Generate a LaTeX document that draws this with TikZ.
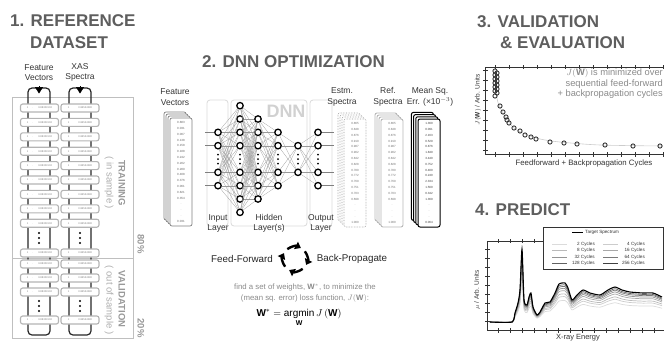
\documentclass[tikz,border=0pt]{standalone}
\usepackage{fontspec}
\usepackage{amsmath}
\setmainfont{Liberation Sans}
\usetikzlibrary{arrows.meta}
\definecolor{ttl}{HTML}{5E5E5E}
\definecolor{boxg}{HTML}{B4B4B4}
\definecolor{txtg}{HTML}{8A8A8A}
\begin{document}
\begin{tikzpicture}[x=1pt,y=-1pt,
  title/.style={font=\fontsize{17}{19}\selectfont\bfseries,text=ttl,inner sep=0,anchor=base west},
  lbl/.style={font=\fontsize{8.5}{10.5}\selectfont,text=black!80,align=center,inner sep=0},
  rowbox/.style={draw=boxg,line width=1.1,fill=white,rounded corners=2.2,minimum width=38,minimum height=8,inner sep=0,font=\fontsize{2.6}{3}\selectfont,text=black!50},
  legbox/.style={draw=black!85,line width=1.2,rounded corners=4},
  sidebold/.style={font=\fontsize{9.5}{10}\selectfont\bfseries,text=black!40,rotate=-90,inner sep=0},
  sidelight/.style={font=\fontsize{9.5}{10}\selectfont,text=black!32,rotate=-90,inner sep=0},
  neuron/.style={circle,draw=black,line width=1.3,fill=white,minimum size=6.4,inner sep=0},
  edge/.style={draw=black!40,line width=0.25},
  layerbox/.style={draw=black!15,line width=0.8,rounded corners=3},
  nums/.style={font=\fontsize{3}{5.8}\selectfont,align=center,inner sep=0},
  bigdot/.style={circle,fill=black,minimum size=2.2,inner sep=0},
  fvsheet/.style={draw=black!50,line width=0.7,fill=white,rounded corners=2},
  estsheet/.style={draw=black!40,densely dotted,line width=0.6,fill=white,rounded corners=2},
  refsheet/.style={draw=black!28,line width=0.9,fill=white,rounded corners=2},
  msesheet/.style={draw=black,line width=1.0,fill=white,rounded corners=2},
  cyc/.style={line width=2.4,-{Triangle[width=8pt,length=5.5pt]}},
  axis/.style={draw=black!80,line width=0.6},
  pt/.style={draw=black!80,line width=0.9},
  leg/.style={font=\fontsize{4.6}{5}\selectfont,inner sep=0,text=black!80},
  spec/.pic={\draw[#1] plot[smooth,tension=0.35] coordinates {(490,322) (512,322) (515,313) (518,303) (520,290) (522,249) (524,300) (527,305) (529,297) (531,293) (533,307) (537,315) (540,312) (545,303) (550,302) (555,293) (559,284) (565,283) (568,288) (572,300) (577,295) (583,290) (590,293) (600,295) (608,290) (615,287) (622,290) (630,292) (643,293) (653,293) (662,297)};}
]
\useasboundingbox (0,0) rectangle (664,341);

% ---------- titles ----------
\node[title] (t1) at (10,26) {1. REFERENCE};
\node[title] (t1b) at (30,48) {DATASET};
\node[title] (t2) at (202,67) {2. DNN OPTIMIZATION};
\node[title] (t3) at (477,27) {3. VALIDATION};
\node[title] (t3b) at (500,48) {\& EVALUATION};
\node[title] (t4) at (475,215) {4. PREDICT};

% ---------- panel 1 ----------
\node[lbl] (fvl) at (39,72.5) {Feature\\Vectors};
\node[lbl] (xasl) at (80,72.5) {XAS\\Spectra};
\draw[draw=black!25,line width=0.8] (12,97) rectangle (133,338);
\draw[draw=black!25,line width=0.8] (12,258.5) -- (133,258.5);
\draw[legbox] (28,88) rectangle (50,335);
\draw[legbox] (69,88) rectangle (91,335);
\coordinate (fvA) at (39,86); \coordinate (fvB) at (39,93.5);
\coordinate (xsA) at (80,86); \coordinate (xsB) at (80,93.5);
\draw[-{Triangle[width=8pt,length=6.5pt]},line width=0.5] (fvA) -- (fvB);
\draw[-{Triangle[width=8pt,length=6.5pt]},line width=0.5] (xsA) -- (xsB);
\foreach \y [count=\i] in {108,122.4,136.8,151.2,165.6,180,194.4,208.8,223.2,253,264,278,292,320}{
  \node[rowbox] (rl\i) at (39.5,\y) {1\hspace{4pt}·\hspace{5pt}0.88303102};
  \node[rowbox] (rr\i) at (80,\y) {1\hspace{9pt}0.86534290};
}
\foreach \x in {39,80}{
  \foreach \y in {233,238,243,301,306,311}{
    \node[bigdot] at (\x,\y) {};
  }
}
\node[sidebold] (trn) at (122,183) {TRAINING};
\node[sidelight] (ins) at (109,183) {( in sample )};
\node[sidebold] (val) at (122,299) {VALIDATION};
\node[sidelight] (oos) at (109,300) {( out of sample )};
\node[sidebold] (p80) at (141,244) {80\%};
\node[sidebold] (p20) at (141,328) {20\%};

% ---------- panel 2 ----------
\node[lbl] (fv2) at (175,97) {Feature\\Vectors};
\foreach \i in {3,2,1,0}{\draw[fvsheet] ({170-2*\i},{118-2*\i}) rectangle ++(22,108);}
\node[nums,text=black!60] (fvn) at (181,172) {0.883\\0.031\\0.007\\0.138\\0.158\\0.188\\0.242\\0.202\\0.289\\0.408\\0.376\\0.061\\0.821\\0.354\\·\\·\\·\\0.031};

\draw[layerbox] (207,100) rectangle (228,226);
\draw[layerbox] (231,100) rectangle (307,226);
\draw[layerbox] (310,100) rectangle (332,226);
\node[font=\fontsize{18}{18}\selectfont\bfseries,text=black!18,anchor=base,inner sep=0] (dnn) at (286,117) {DNN};

\foreach \k in {-2,-1,1,2}{\node[neuron] (a\k) at (218,{159+13.33*\k}) {};}
\foreach \k in {-4,-3,-2,-1,1,2,3,4}{\node[neuron] (b\k) at (240,{159+13.33*\k}) {};}
\foreach \k in {-3,-2,-1,1,2,3}{\node[neuron] (c\k) at (258,{159+13.33*\k}) {};}
\foreach \k in {-2,-1,1,2}{\node[neuron] (d\k) at (278,{159+13.33*\k}) {};}
\foreach \k in {-1,1}{\node[neuron] (e\k) at (298,{159+13.33*\k}) {};}
\foreach \k in {-2,-1,1,2}{\node[neuron] (f\k) at (318,{159+13.33*\k}) {};}
\foreach \x in {218,240,258,278,298,318}{
  \foreach \y in {154.5,159,163.5}{\node[bigdot,minimum size=2] at (\x,\y) {};}
}
\foreach \p in {-2,-1,1,2}{\foreach \q in {-4,-3,-2,-1,1,2,3,4}{\draw[edge] (a\p) -- (b\q);}}
\foreach \p in {-4,-3,-2,-1,1,2,3,4}{\foreach \q in {-3,-2,-1,1,2,3}{\draw[edge] (b\p) -- (c\q);}}
\foreach \p in {-3,-2,-1,1,2,3}{\foreach \q in {-2,-1,1,2}{\draw[edge] (c\p) -- (d\q);}}
\foreach \p in {-2,-1,1,2}{\foreach \q in {-1,1}{\draw[edge] (d\p) -- (e\q);}}
\foreach \p in {-1,1}{\foreach \q in {-2,-1,1,2}{\draw[edge] (e\p) -- (f\q);}}
\foreach \k in {-2,-1,1,2}{
  \coordinate (in\k) at (205,{159+13.33*\k});
  \coordinate (out\k) at (334,{159+13.33*\k});
  \draw[edge,draw=black!50,line width=0.5] (in\k) -- (a\k);
  \draw[edge,draw=black!50,line width=0.5] (f\k) -- (out\k);
}
\node[lbl] (inl) at (218,223.5) {Input\\Layer};
\node[lbl] (hidl) at (269,223.5) {Hidden\\Layer(s)};
\node[lbl] (outl) at (321,223.5) {Output\\Layer};

\node[lbl] (estl) at (342,97) {Estm.\\Spectra};
\node[lbl] (refl) at (388,97) {Ref.\\Spectra};
\node[lbl] (msel) at (430,97) {Mean Sq.\\Err. (×10$^{-3}$)};
\foreach \i in {3,2,1,0}{\draw[estsheet] ({344-2*\i},{119-2*\i}) rectangle ++(22,108);}
\foreach \i in {3,2,1,0}{\draw[refsheet] ({381-2*\i},{119-2*\i}) rectangle ++(22,108);}
\foreach \i in {3,2,1,0}{\draw[msesheet] ({418-2.2*\i},{119-2.2*\i}) rectangle ++(22,108);}
\node[nums,text=black!55] (estn) at (355,173) {0.865\\0.848\\0.876\\0.910\\0.987\\0.902\\0.842\\0.828\\0.780\\0.772\\0.769\\0.751\\0.703\\0.698\\·\\·\\·\\1.000};
\node[nums,text=black!55] (refn) at (392,173) {0.865\\0.848\\0.876\\0.910\\0.987\\0.902\\0.842\\0.828\\0.780\\0.772\\0.769\\0.751\\0.703\\0.698\\·\\·\\·\\1.000};
\node[nums,text=black!75] (msen) at (429,173) {1.360\\0.091\\2.163\\0.529\\0.876\\1.849\\3.440\\0.752\\0.400\\0.240\\2.334\\1.560\\0.342\\1.369\\·\\·\\·\\0.064};

\node[font=\fontsize{9.8}{10}\selectfont,text=black!85,inner sep=0] (ff) at (242,259) {Feed-Forward};
\node[font=\fontsize{9.8}{10}\selectfont,text=black!85,inner sep=0] (bp) at (352,259) {Back-Propagate};
\coordinate (cc) at (295,259);
\draw[cyc] (cc) ++(128:12.5pt) arc[start angle=128,end angle=62,radius=12.5pt];
\draw[cyc] (cc) ++(38:12.5pt) arc[start angle=38,end angle=-28,radius=12.5pt];
\draw[cyc] (cc) ++(-52:12.5pt) arc[start angle=-52,end angle=-118,radius=12.5pt];
\draw[cyc] (cc) ++(-142:12.5pt) arc[start angle=-142,end angle=-208,radius=12.5pt];
\node[font=\fontsize{7.8}{11}\selectfont,text=txtg,align=center,inner sep=0] (desc) at (305,293) {find a set of weights, $\mathbf{W}^{*}$, to minimize the\\(mean sq. error) loss function, $J(\mathbf{W})$:};
\node[font=\fontsize{10}{12}\selectfont,inner sep=0] (form) at (299,318) {$\displaystyle\mathbf{W}^{*}=\operatorname*{argmin}_{\mathbf{W}} J\left(\mathbf{W}\right)$};

% ---------- panel 3 ----------
\draw[axis] (664,67) -- (485,67) -- (485,154) -- (664,154);
\foreach \x in {495,509,...,663}{\draw[axis] (\x,152) -- (\x,156.5); \draw[axis] (\x,65) -- (\x,69);}
\foreach \y in {70,80,...,150}{\draw[axis] (483,\y) -- (487.5,\y);}
\draw[draw=black!20,line width=0.6] plot[smooth,tension=0.5] coordinates {(495,70) (497,98) (500,107) (506,118) (514,128) (525,134) (540,139) (560,142) (600,145) (663,146)};
\foreach \p in {(495,71),(497,73),(495,75),(497,77),(495,79),(497,81),(495,83),(497,85),(495,87),(497,89),(495,91),(497,93),(495,96),(500,106),(503,112),(506,117),(507,120),(509,123),(514,128),(520,131),(525,135),(531,137),(536,139),(550,142),(564,143),(577,144),(605,145),(633,146),(660,146)}{
  \draw[pt] \p circle[radius=2.1pt];
}
\node[font=\fontsize{9.3}{10.5}\selectfont,text=txtg,align=right,inner sep=0,anchor=north east] (jtxt) at (663,69) {$J(\mathbf{W})$ is minimized over\\sequential feed-forward\\+ backpropagation cycles};
\node[font=\fontsize{6.5}{7}\selectfont,text=black!80,rotate=90,inner sep=0] (jy) at (478,100) {$J(\mathbf{W})$ / Arb. Units};
\node[font=\fontsize{7.8}{8}\selectfont,text=black!80,inner sep=0] (jx) at (584,163) {Feedforward + Backpropagation Cycles};

% ---------- panel 4 ----------
\draw[axis] (664,241) -- (487,241) -- (487,330) -- (664,330);
\foreach \x in {498,510,...,662}{\draw[axis] (\x,328) -- (\x,332.5); \draw[axis] (\x,239) -- (\x,243);}
\foreach \y in {249,258,...,325}{\draw[axis] (485,\y) -- (489.5,\y);}
\pic[yshift=-144.9pt,yscale=0.55] at (0,0) {spec={draw=black!14,line width=0.7}};
\pic[yshift=-112.7pt,yscale=0.65] at (0,0) {spec={draw=black!20,line width=0.7}};
\pic[yshift=-90.2pt,yscale=0.72] at (0,0) {spec={draw=black!27,line width=0.7}};
\pic[yshift=-64.4pt,yscale=0.80] at (0,0) {spec={draw=black!34,line width=0.7}};
\pic[yshift=-45.1pt,yscale=0.86] at (0,0) {spec={draw=black!42,line width=0.7}};
\pic[yshift=-29pt,yscale=0.91] at (0,0) {spec={draw=black!52,line width=0.7}};
\pic[yshift=-16.1pt,yscale=0.95] at (0,0) {spec={draw=black!62,line width=0.7}};
\pic at (0,0) {spec={draw=black,line width=1.1}};
\draw[draw=black!80,line width=0.8,fill=white] (543,227) rectangle (663,269);
\coordinate (lt1) at (572,232); \coordinate (lt2) at (583,232);
\draw[line width=1] (lt1) -- (lt2);
\node[leg,anchor=west] (ltt) at (585,232) {Target Spectrum};
\foreach \n/\y/\c in {2/244/14,8/250.5/27,32/257/42,128/263/62}{
  \draw[draw=black!\c,line width=0.9] (552,\y) -- (567,\y);
  \node[leg,anchor=east] at (595,\y) {\n{} Cycles};
}
\foreach \n/\y/\c in {4/244/20,16/250.5/34,64/257/52,256/263/75}{
  \draw[draw=black!\c,line width=0.9] (603,\y) -- (618,\y);
  \node[leg,anchor=east] at (645,\y) {\n{} Cycles};
}
\node[font=\fontsize{6.5}{7}\selectfont,text=black!80,rotate=90,inner sep=0] (my) at (477,290) {$\mu$ / Arb. Units};
\node[font=\fontsize{7.5}{8}\selectfont,text=black!80,inner sep=0] (mx) at (578,338) {X-ray Energy};
\end{tikzpicture}
\end{document}
